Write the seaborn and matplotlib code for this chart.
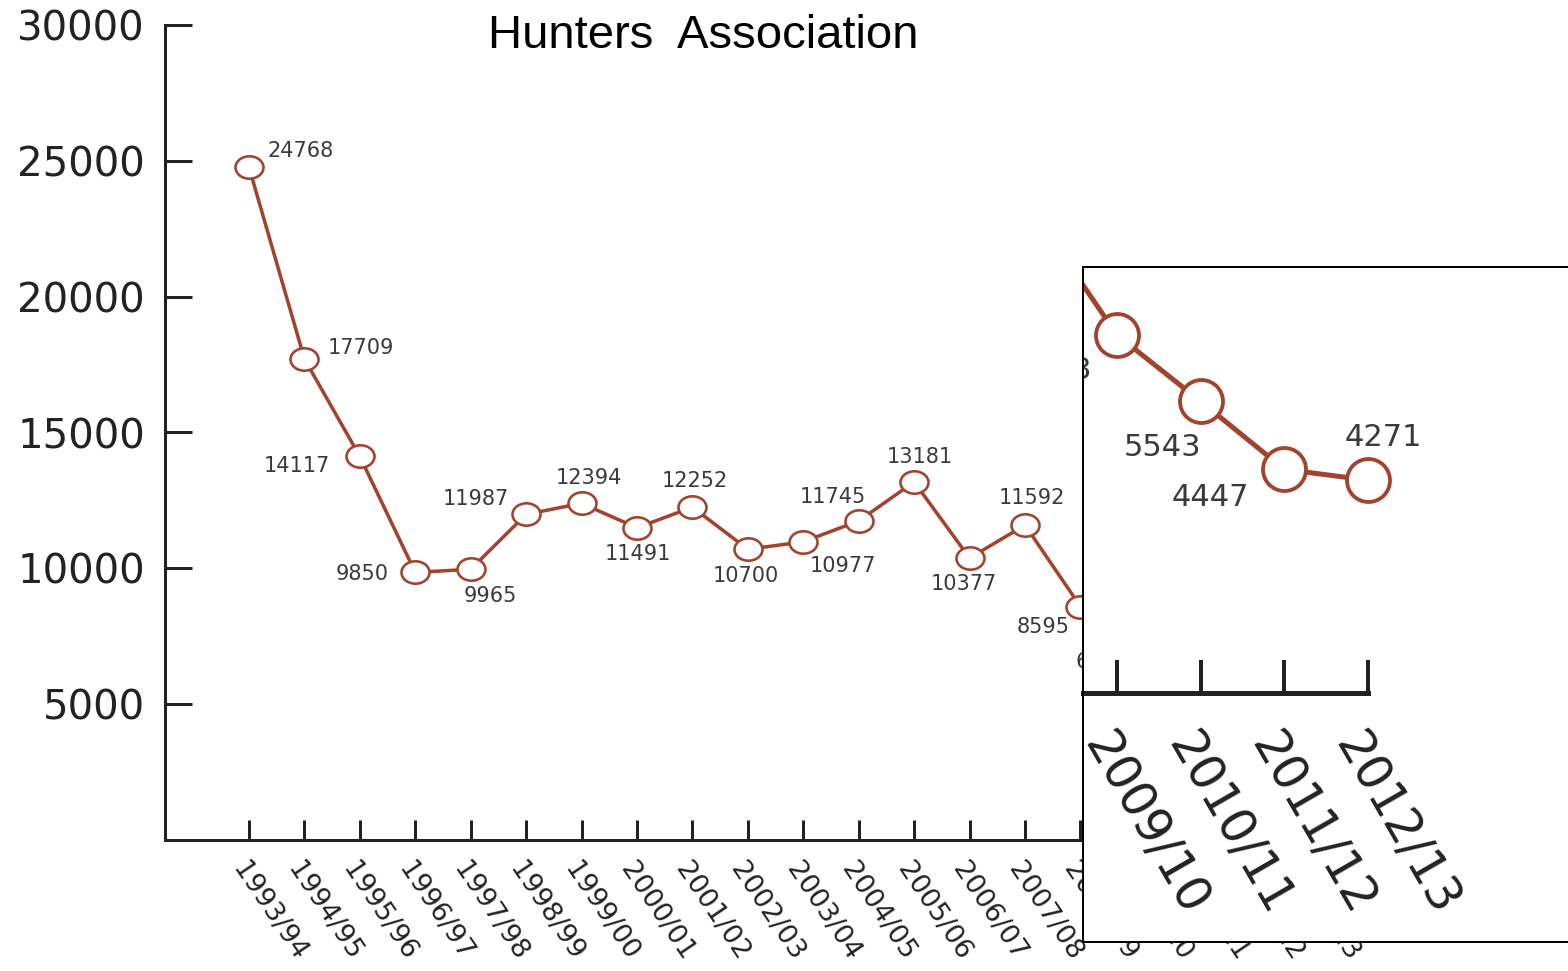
import matplotlib
matplotlib.use("Agg")
import matplotlib.pyplot as plt
from matplotlib.patches import Rectangle
from matplotlib.path import Path
from matplotlib.transforms import Affine2D, ScaledTranslation
import pandas as pd
import seaborn as sns

# ---- data -------------------------------------------------------------
seasons = ["1993/94", "1994/95", "1995/96", "1996/97", "1997/98", "1998/99",
           "1999/00", "2000/01", "2001/02", "2002/03", "2003/04", "2004/05",
           "2005/06", "2006/07", "2007/08", "2008/09", "2009/10", "2010/11",
           "2011/12", "2012/13"]
members = [24768, 17709, 14117, 9850, 9965, 11987, 12394, 11491, 12252, 10700,
           10977, 11745, 13181, 10377, 11592, 8595, 6613, 5543, 4447, 4271]
y_ticks = [5000, 10000, 15000, 20000, 25000, 30000]
zoom_seasons = ["2009/10", "2010/11", "2011/12", "2012/13"]
title_text = "Hunters  Association"

df = pd.DataFrame({"season": seasons, "members": members})
df["pos"] = range(len(df))

# ---- styling ----------------------------------------------------------
sns.set_style("white")
plt.rcParams["font.family"] = ["DejaVu Sans"]

W, H, DPI = 1568, 971, 100
LINE = "#a2432d"
INK = "#222222"
LABEL_INK = "#3a3a3a"

# slightly flattened ring used on the main series
flat_ring = Path.unit_circle().transformed(Affine2D().scale(1.0, 0.8))


def px(v):
    """pixels -> points"""
    return v * 72.0 / DPI


def box(left, top, right, bottom):
    return [left / W, 1 - bottom / H, (right - left) / W, (bottom - top) / H]


fig = plt.figure(figsize=(W / DPI, H / DPI), dpi=DPI, facecolor="white")

# ---- main chart -------------------------------------------------------
step = 55.43
x_left = -1.515
x_right = 19.6
ax = fig.add_axes(box(165, 25, 165 + (x_right - x_left) * step, 840))
sns.lineplot(data=df, x="pos", y="members", ax=ax, color=LINE,
             linewidth=px(3.5), marker=flat_ring, markersize=px(28),
             markerfacecolor="white", markeredgecolor=LINE,
             markeredgewidth=px(2.6), zorder=3)
ax.set_xlim(x_left, x_right)
ax.set_ylim(0, 30000)
ax.set_xlabel("")
ax.set_ylabel("")
for side in ("top", "right"):
    ax.spines[side].set_visible(False)
for side in ("left", "bottom"):
    ax.spines[side].set_linewidth(px(3))
    ax.spines[side].set_color(INK)

ax.set_yticks(y_ticks, labels=[str(v) for v in y_ticks])
ax.tick_params(axis="y", left=True, direction="in", length=px(27),
               width=px(3), color=INK, labelsize=29, labelcolor=INK,
               pad=px(20))
ax.set_xticks(df["pos"], labels=df["season"])
ax.tick_params(axis="x", bottom=True, direction="in", length=px(20),
               width=px(3), color=INK, labelsize=19.5, labelcolor=INK, pad=0)
shift_main = ScaledTranslation(-12 / DPI, -25 / DPI, fig.dpi_scale_trans)
for lab in ax.get_xticklabels():
    lab.set_rotation(-56)
    lab.set_rotation_mode("anchor")
    lab.set_ha("left")
    lab.set_va("center")
    lab.set_transform(lab.get_transform() + shift_main)

# value labels (offsets in pixels from each marker)
label_offsets = [(52, -16), (56, -11), (-63, 10), (-53, 2), (20, 27),
                 (-50, -15), (7, -25), (1, 26), (2, -26), (-2, 27),
                 (40, 24), (-26, -24), (6, -25), (-6, 26), (7, -27),
                 (-37, 20), (-34, 2), (-25, 30), (-45, 20), (10, -28)]
for (p, v), (dx, dy) in zip(zip(df["pos"], df["members"]), label_offsets):
    ax.annotate(str(v), (p, v), xytext=(px(dx), -px(dy)),
                textcoords="offset points", ha="center", va="center",
                fontsize=15, color=LABEL_INK, zorder=4)

fig.text(703 / W, 1 - 48 / H, title_text, ha="center", va="baseline",
         fontsize=34, family=["Liberation Sans", "DejaVu Sans"], color="black")

# ---- magnified view of the last seasons ------------------------------
z_step = 83.67
z_first = seasons.index(zoom_seasons[0])
z_left_px, z_right_px = 1083, 1580
z_top_px, z_bottom_px = 267, 942
z_zero_px, z_scale = 745.0, 0.062      # pixel row of value 0, pixels per member
z_axis_px = 693
axi = fig.add_axes(box(z_left_px, z_top_px, z_right_px, z_bottom_px))
axi.set_facecolor("white")
sns.lineplot(data=df, x="pos", y="members", ax=axi, color=LINE,
             linewidth=px(5), marker="o", markersize=px(43),
             markerfacecolor="white", markeredgecolor=LINE,
             markeredgewidth=px(3.8), zorder=3)
axi.set_xlim(z_first - (1117 - z_left_px) / z_step,
             z_first + (z_right_px - 1117) / z_step)
axi.set_ylim((z_zero_px - z_bottom_px) / z_scale,
             (z_zero_px - z_top_px) / z_scale)
axi.set_xlabel("")
axi.set_ylabel("")
for side in ("top", "right", "left"):
    axi.spines[side].set_visible(False)
axi.spines["bottom"].set_position(("data", (z_zero_px - z_axis_px) / z_scale))
axi.spines["bottom"].set_bounds(axi.get_xlim()[0], len(seasons) - 1)
axi.spines["bottom"].set_linewidth(px(5))
axi.spines["bottom"].set_color(INK)
axi.set_yticks([])
zoom_pos = [seasons.index(s) for s in zoom_seasons]
axi.set_xticks(zoom_pos, labels=zoom_seasons)
axi.tick_params(axis="x", bottom=True, direction="in", length=px(33),
                width=px(4), color=INK, labelsize=35, labelcolor=INK, pad=0)
shift_zoom = ScaledTranslation(-22 / DPI, -44 / DPI, fig.dpi_scale_trans)
for lab in axi.get_xticklabels():
    lab.set_rotation(-60)
    lab.set_rotation_mode("anchor")
    lab.set_ha("left")
    lab.set_va("center")
    lab.set_transform(lab.get_transform() + shift_zoom)

zoom_offsets = [(-63, 36), (-38, 46), (-74, 28), (15, -43)]
for s, (dx, dy) in zip(zoom_seasons, zoom_offsets):
    p = seasons.index(s)
    v = members[p]
    axi.annotate(str(v), (p, v), xytext=(px(dx), -px(dy)),
                 textcoords="offset points", ha="center", va="center",
                 fontsize=22, color=LABEL_INK, zorder=4, clip_on=True,
                 annotation_clip=False)

axi.add_patch(Rectangle((0, 0), 1, 1, transform=axi.transAxes, fill=False,
                        edgecolor="black", linewidth=px(2), clip_on=False,
                        zorder=5))

fig.savefig("out.png", dpi=DPI, facecolor="white")
